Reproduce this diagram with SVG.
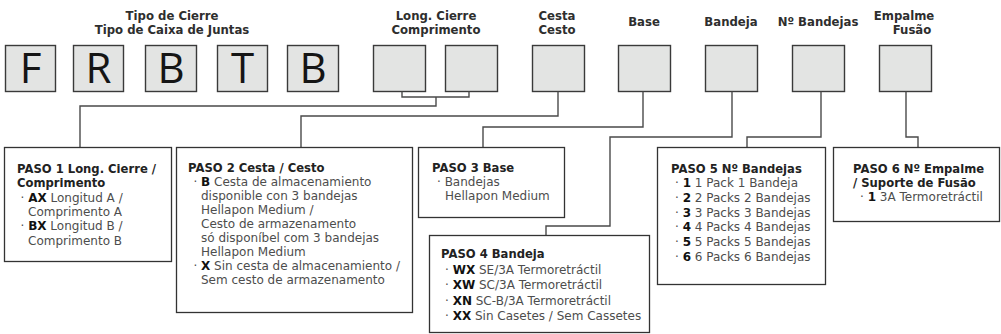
<svg xmlns="http://www.w3.org/2000/svg" width="1001" height="334" viewBox="0 0 1001 334">
<style>
.bg{fill:#ffffff}
.key{fill:#e3e4e3;stroke:#3a3a3a;stroke-width:1.4}
.box{fill:#ffffff;stroke:#333333;stroke-width:1.3}
.con{fill:none;stroke:#4a4a4a;stroke-width:1.4}
.lbl{font-family:"DejaVu Sans","Liberation Sans",sans-serif;font-size:11.7px;font-weight:700;fill:#2e2e2e;text-anchor:middle}
.big{font-family:"Open Sans","Liberation Sans",sans-serif;font-size:42px;fill:#151515;text-anchor:middle}
.t{font-family:"DejaVu Sans","Liberation Sans",sans-serif;font-size:12px;fill:#4d4d4d}
.h{font-size:11.6px;font-weight:700;fill:#222222}
.b{font-weight:700;fill:#111111}
</style>
<rect class="bg" x="0" y="0" width="1001" height="334"/>

<g id="labels">
<text class="lbl" x="172" y="19.5">Tipo de Cierre</text>
<text class="lbl" x="172" y="33.5">Tipo de Caixa de Juntas</text>
<text class="lbl" x="436" y="19.5">Long. Cierre</text>
<text class="lbl" x="436" y="33.5">Comprimento</text>
<text class="lbl" x="557" y="19.5">Cesta</text>
<text class="lbl" x="557" y="33.5">Cesto</text>
<text class="lbl" x="644" y="26">Base</text>
<text class="lbl" x="731" y="26">Bandeja</text>
<text class="lbl" x="818" y="26">Nº Bandejas</text>
<text class="lbl" x="904" y="19.5">Empalme</text>
<text class="lbl" x="912" y="33.5">Fusão</text>
</g>

<g id="key-F"><rect class="key" x="5.5" y="45.5" width="50" height="46"/><text class="big" x="30.5" y="83">F</text></g>
<g id="key-R"><rect class="key" x="73.5" y="45.5" width="50" height="46"/><text class="big" x="98.5" y="83">R</text></g>
<g id="key-B1"><rect class="key" x="145.5" y="45.5" width="51" height="46"/><text class="big" x="171" y="83">B</text></g>
<g id="key-T"><rect class="key" x="217.5" y="45.5" width="50" height="46"/><text class="big" x="242.5" y="83">T</text></g>
<g id="key-B2"><rect class="key" x="287.5" y="45.5" width="51" height="46"/><text class="big" x="313" y="83">B</text></g>
<g id="key-long1"><rect class="key" x="373.5" y="45.5" width="52" height="46"/></g>
<g id="key-long2"><rect class="key" x="445.5" y="45.5" width="52" height="46"/></g>
<g id="key-cesta"><rect class="key" x="532.5" y="45.5" width="52" height="46"/></g>
<g id="key-base"><rect class="key" x="618.5" y="45.5" width="52" height="46"/></g>
<g id="key-bandeja"><rect class="key" x="705.5" y="45.5" width="52" height="46"/></g>
<g id="key-nbandejas"><rect class="key" x="792.5" y="45.5" width="52" height="46"/></g>
<g id="key-empalme"><rect class="key" x="879.5" y="45.5" width="52" height="46"/></g>

<g id="connectors">
<path class="con" d="M402,91.5 V97 H469 V91.5 M436,97 V106 H80 V147"/>
<path class="con" d="M558,91.5 V116 H301 V147"/>
<path class="con" d="M643,91.5 V127 H483 V147"/>
<path class="con" d="M732,91.5 V137 H610 V226 H546 V235"/>
<path class="con" d="M821,91.5 V137 H747 V147"/>
<path class="con" d="M906,91.5 V137 H918 V147"/>
</g>

<g id="paso1">
<rect class="box" x="4.5" y="147.5" width="167" height="114"/>
<text class="t h" x="17" y="173">PASO 1 Long. Cierre /</text>
<text class="t h" x="17" y="187">Comprimento</text>
<text class="t" x="20.5" y="202">· <tspan class="b">AX</tspan> Longitud A /</text>
<text class="t" x="28" y="216">Comprimento A</text>
<text class="t" x="20.5" y="230">· <tspan class="b">BX</tspan> Longitud B /</text>
<text class="t" x="28" y="245">Comprimento B</text>
</g>

<g id="paso2">
<rect class="box" x="176.5" y="147.5" width="236" height="165"/>
<text class="t h" x="188" y="172">PASO 2 Cesta / Cesto</text>
<text class="t" x="193.4" y="186">· <tspan class="b">B</tspan> Cesta de almacenamiento</text>
<text class="t" x="201" y="200">disponible con 3 bandejas</text>
<text class="t" x="201" y="214">Hellapon Medium /</text>
<text class="t" x="201" y="228">Cesto de armazenamento</text>
<text class="t" x="201" y="242">só disponíbel com 3 bandejas</text>
<text class="t" x="201" y="256">Hellapon Medium</text>
<text class="t" x="193.4" y="270">· <tspan class="b">X</tspan> Sin cesta de almacenamiento /</text>
<text class="t" x="201" y="284">Sem cesto de armazenamento</text>
</g>

<g id="paso3">
<rect class="box" x="418.5" y="147.5" width="146" height="70"/>
<text class="t h" x="432" y="172">PASO 3 Base</text>
<text class="t" x="437" y="186">· Bandejas</text>
<text class="t" x="445" y="200">Hellapon Medium</text>
</g>

<g id="paso4">
<rect class="box" x="429.5" y="235.5" width="220" height="97"/>
<text class="t h" x="441" y="258">PASO 4 Bandeja</text>
<text class="t" x="445" y="274">· <tspan class="b">WX</tspan> SE/3A Termoretráctil</text>
<text class="t" x="445" y="289">· <tspan class="b">XW</tspan> SC/3A Termoretráctil</text>
<text class="t" x="445" y="305">· <tspan class="b">XN</tspan> SC-B/3A Termoretráctil</text>
<text class="t" x="445" y="320">· <tspan class="b">XX</tspan> Sin Casetes / Sem Cassetes</text>
</g>

<g id="paso5">
<rect class="box" x="657.5" y="147.5" width="168" height="137"/>
<text class="t h" x="671" y="173">PASO 5 Nº Bandejas</text>
<text class="t" x="675" y="187">· <tspan class="b">1</tspan> 1 Pack 1 Bandeja</text>
<text class="t" x="675" y="202">· <tspan class="b">2</tspan> 2 Packs 2 Bandejas</text>
<text class="t" x="675" y="217">· <tspan class="b">3</tspan> 3 Packs 3 Bandejas</text>
<text class="t" x="675" y="231">· <tspan class="b">4</tspan> 4 Packs 4 Bandejas</text>
<text class="t" x="675" y="246">· <tspan class="b">5</tspan> 5 Packs 5 Bandejas</text>
<text class="t" x="675" y="261">· <tspan class="b">6</tspan> 6 Packs 6 Bandejas</text>
</g>

<g id="paso6">
<rect class="box" x="833.5" y="147.5" width="166" height="74"/>
<text class="t h" x="853" y="173">PASO 6 Nº Empalme</text>
<text class="t h" x="853" y="187">/ Suporte de Fusão</text>
<text class="t" x="860" y="201">· <tspan class="b">1</tspan> 3A Termoretráctil</text>
</g>
</svg>
